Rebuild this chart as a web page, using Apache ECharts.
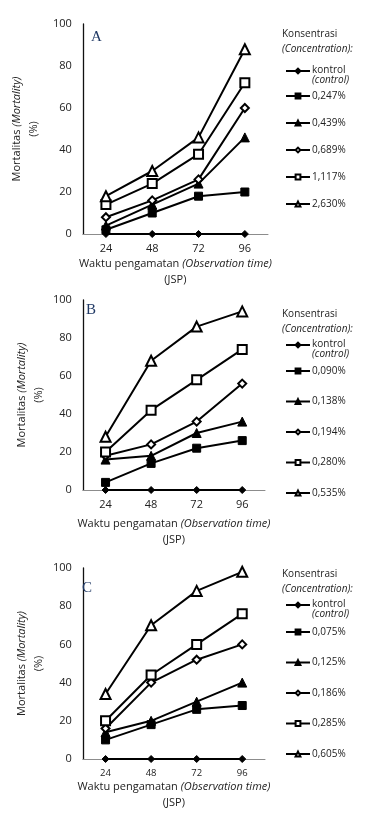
<!DOCTYPE html>
<html><head><meta charset="utf-8">
<script src="https://cdn.jsdelivr.net/npm/echarts@6/dist/echarts.min.js"></script>
<style>html,body{margin:0;padding:0;background:#fff}#c{width:365px;height:814px}</style>
</head><body><div id="c"></div>
<script>
var categories = ['24','48','72','96'];
var yTicks = [0,20,40,60,80,100];
var panelLetters = ['A','B','C'];
var namesA = ['kontrol','0,247%','0,439%','0,689%','1,117%','2,630%'];
var namesB = ['kontrol','0,090%','0,138%','0,194%','0,280%','0,535%'];
var namesC = ['kontrol','0,075%','0,125%','0,186%','0,285%','0,605%'];
var valuesA = [
  [0,0,0,0],
  [2,10,18,20],
  [4,14,24,46],
  [8,16,26,60],
  [14,24,38,72],
  [18,30,46,88]
];
var valuesB = [
  [0,0,0,0],
  [4,14,22,26],
  [16,18,30,36],
  [18,24,36,56],
  [20,42,58,74],
  [28,68,86,94]
];
var valuesC = [
  [0,0,0,0],
  [10,18,26,28],
  [14,20,30,40],
  [16,40,52,60],
  [20,44,60,76],
  [34,70,88,98]
];

var FONT = 'Open Sans';
var symbols = ['diamond','rect','triangle','emptyDiamond','emptyRect','emptyTriangle'];
var symSizes = [7,8,9,8,9,10];

var panels = [
  {names:namesA, values:valuesA, grid:{left:78,right:97,top:24,bottom:580}, letter:{left:86,top:25},
   head:{left:277,top:22}, legK:{top:50.5}, legS:{top:86,gap:17}, xFont:11, xNameGap:22},
  {names:namesB, values:valuesB, grid:{left:76,right:100,top:300,bottom:324}, letter:{left:81,top:298},
   head:{left:277,top:302}, legK:{top:324.5}, legS:{top:361,gap:20.5}, xFont:11, xNameGap:26},
  {names:namesC, values:valuesC, grid:{left:72,right:100,top:568,bottom:55}, letter:{left:77,top:576},
   head:{left:277,top:562}, legK:{top:584.5}, legS:{top:622,gap:20.5}, xFont:9.5, xNameGap:17}
];

var grids=[],xAxes=[],yAxes=[],series=[],legends=[],titles=[];
panels.forEach(function(p,i){
  grids.push(p.grid);
  xAxes.push({type:'category',gridIndex:i,data:categories,boundaryGap:true,
    axisLine:{lineStyle:{color:'#8c8c8c',width:1}},axisTick:{show:false},
    axisLabel:{color:'#222',fontFamily:FONT,fontSize:p.xFont,margin:9},
    name:'Waktu pengamatan {i|(Observation time)}\n(JSP)',nameLocation:'middle',nameGap:p.xNameGap,
    nameTextStyle:{color:'#222',fontFamily:FONT,fontSize:11,lineHeight:16,
      rich:{i:{fontStyle:'italic',fontFamily:FONT,fontSize:11,color:'#222'}}}
  });
  yAxes.push({type:'value',gridIndex:i,min:0,max:100,interval:20,
    axisLine:{show:true,lineStyle:{color:'#111',width:1.3}},axisTick:{show:false},splitLine:{show:false},
    axisLabel:{color:'#222',fontFamily:FONT,fontSize:11,margin:11},
    name:'Mortalitas {i|(Mortality)}\n(%)',nameLocation:'middle',nameRotate:90,nameGap:35,
    nameTextStyle:{color:'#222',fontFamily:FONT,fontSize:11,lineHeight:17,
      rich:{i:{fontStyle:'italic',fontFamily:FONT,fontSize:11,color:'#222'}}}
  });
  p.names.forEach(function(n,k){
    series.push({type:'line',name:n,xAxisIndex:i,yAxisIndex:i,data:p.values[k],
      symbol:symbols[k],symbolSize:symSizes[k],showAllSymbol:true,
      lineStyle:{color:'#000',width:2},itemStyle:{color:'#000',borderColor:'#000',borderWidth:1},
      emphasis:{disabled:true},animation:false,z:2+k});
  });
  titles.push({text:panelLetters[i],left:p.letter.left,top:p.letter.top,
    textStyle:{fontFamily:'Liberation Serif',fontSize:15,fontWeight:'normal',color:'#1f3864'}});
  titles.push({text:'{a|Konsentrasi}\n{b|(Concentration):}',left:p.head.left,top:p.head.top,
    textStyle:{fontWeight:'normal',rich:{a:{fontFamily:FONT,fontSize:10,fontWeight:'normal',color:'#222',lineHeight:15},
      b:{fontFamily:FONT,fontSize:10,fontWeight:'normal',fontStyle:'italic',color:'#222',lineHeight:15}}}});
  legends.push({data:[p.names[0]],orient:'vertical',left:280,top:p.legK.top,itemWidth:24,itemHeight:6,
    selectedMode:false,formatter:function(){return '{e|}\n{a|kontrol}\n{b|(control)}';},
    textStyle:{padding:[0,0,0,-3],rich:{e:{height:9,lineHeight:9},a:{fontFamily:FONT,fontSize:10,color:'#222',lineHeight:9},
      b:{fontFamily:FONT,fontSize:10,fontStyle:'italic',color:'#222',lineHeight:10}}}});
  legends.push({data:p.names.slice(1),orient:'vertical',left:280,top:p.legS.top,itemWidth:24,itemHeight:6,
    itemGap:p.legS.gap,selectedMode:false,
    textStyle:{fontFamily:FONT,fontSize:10,color:'#222',padding:[0,0,0,-3]}});
});

var chart = echarts.init(document.getElementById('c'),null,{renderer:'canvas'});
chart.setOption({animation:false,backgroundColor:'#fff',title:titles,legend:legends,
  grid:grids,xAxis:xAxes,yAxis:yAxes,series:series});
</script></body></html>
